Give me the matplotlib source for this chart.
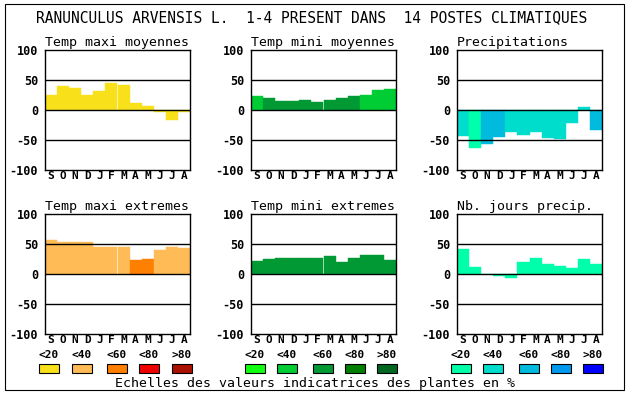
import matplotlib
matplotlib.use('Agg')
import matplotlib.pyplot as plt
from matplotlib.patches import Rectangle

W, H = 630, 394

months = ['S', 'O', 'N', 'D', 'J', 'F', 'M', 'A', 'M', 'J', 'J', 'A']
classes = ['<20', '<40', '<60', '<80', '>80']

titles = ['Temp maxi moyennes', 'Temp mini moyennes', 'Precipitations',
          'Temp maxi extremes', 'Temp mini extremes', 'Nb. jours precip.']

tmax_moy = [25, 40, 37, 25, 32, 45, 42, 12, 7, -4, -16, -3]
tmin_moy = [24, 20, 15, 15, 17, 13, 17, 20, 24, 25, 34, 35]
precip = [-43, -63, -57, -45, -37, -42, -37, -47, -48, -21, 5, -33]
tmax_ext = [57, 53, 53, 53, 45, 45, 45, 23, 25, 40, 45, 43]
tmin_ext = [22, 25, 27, 27, 27, 27, 30, 20, 27, 32, 32, 23]
nb_jours = [42, 12, 0, -4, -6, 20, 27, 17, 13, 10, 25, 17]

# class index (0..4) of each month bar
tmax_moy_cls = [0, 0, 0, 0, 0, 0, 0, 0, 0, 0, 0, 0]
tmin_moy_cls = [1, 2, 2, 2, 2, 2, 2, 2, 2, 1, 1, 1]
precip_cls = [1, 0, 2, 2, 1, 1, 1, 1, 1, 1, 1, 2]
tmax_ext_cls = [1, 1, 1, 1, 1, 1, 1, 2, 2, 1, 1, 1]
tmin_ext_cls = [2, 2, 2, 2, 2, 2, 2, 2, 2, 2, 2, 2]
nb_jours_cls = [0, 0, 0, 0, 0, 0, 0, 0, 0, 0, 0, 0]

temp_colors = ['#F8E01A', '#FFBB55', '#FF8000', '#EE0000', '#AA1100']
green_colors = ['#11FF11', '#00CC33', '#009933', '#007F00', '#006622']
water_colors = ['#00FFAA', '#00DDCC', '#00BBDD', '#0099EE', '#0000FF']

series = [tmax_moy, tmin_moy, precip, tmax_ext, tmin_ext, nb_jours]
series_cls = [tmax_moy_cls, tmin_moy_cls, precip_cls, tmax_ext_cls, tmin_ext_cls, nb_jours_cls]
palettes = [temp_colors, green_colors, water_colors, temp_colors, green_colors, water_colors]

MONO = 'DejaVu Sans Mono'

def fx(x):
    return x / W

def fy(y):
    return 1 - y / H

fig = plt.figure(figsize=(W / 100, H / 100), dpi=100)

# outer frame
fig.add_artist(Rectangle((fx(5), fy(390)), fx(619), 386 / H, fill=False,
                         edgecolor='black', linewidth=0.8, transform=fig.transFigure))

fig.text(fx(312), fy(18), 'RANUNCULUS ARVENSIS L.  1-4 PRESENT DANS  14 POSTES CLIMATIQUES',
         family=MONO, fontsize=10.5, ha='center', va='center')

lefts = [45, 251, 457]
tops = [50, 214]
for i in range(6):
    r, c = divmod(i, 3)
    ax = fig.add_axes([fx(lefts[c]), fy(tops[r] + 120), 145 / W, 120 / H])
    cols = [palettes[i][k] for k in series_cls[i]]
    ax.bar(range(12), series[i], width=1.0, align='edge', color=cols,
           edgecolor=cols, linewidth=0.3)
    for yv in (-50, 0, 50):
        ax.axhline(yv, color='black', linewidth=1.0)
    ax.set_xlim(0, 12)
    ax.set_ylim(-100, 100)
    ax.set_yticks([-100, -50, 0, 50, 100])
    ax.set_yticklabels(['-100', '-50', '0', '50', '100'], family=MONO,
                       fontweight='bold', fontsize=8.5)
    ax.set_xticks([k + 0.5 for k in range(12)])
    ax.set_xticklabels(months, family=MONO, fontweight='bold', fontsize=8)
    ax.tick_params(axis='x', length=0, pad=0.5)
    ax.tick_params(axis='y', length=0, pad=5)
    for s in ax.spines.values():
        s.set_linewidth(1.0)
    ax.set_title(titles[i], family=MONO, fontsize=9.5, pad=3, loc='left')

# legends
box_lefts = [[39, 72, 107, 139, 172], [245, 277, 313, 345, 377], [451, 483, 519, 551, 583]]
legend_pal = [temp_colors, green_colors, water_colors]
for c in range(3):
    for k in range(5):
        x0 = box_lefts[c][k]
        fig.add_artist(Rectangle((fx(x0), fy(373)), 20 / W, 9 / H,
                                 facecolor=legend_pal[c][k], edgecolor='black',
                                 linewidth=0.8, transform=fig.transFigure))
        fig.text(fx(x0 + 10), fy(355), classes[k], family=MONO, fontweight='bold',
                 fontsize=8, ha='center', va='center')

fig.text(fx(315), fy(383), 'Echelles des valeurs indicatrices des plantes en %',
         family=MONO, fontsize=9.5, ha='center', va='center')

plt.savefig('out.png', dpi=100)
plt.close()
